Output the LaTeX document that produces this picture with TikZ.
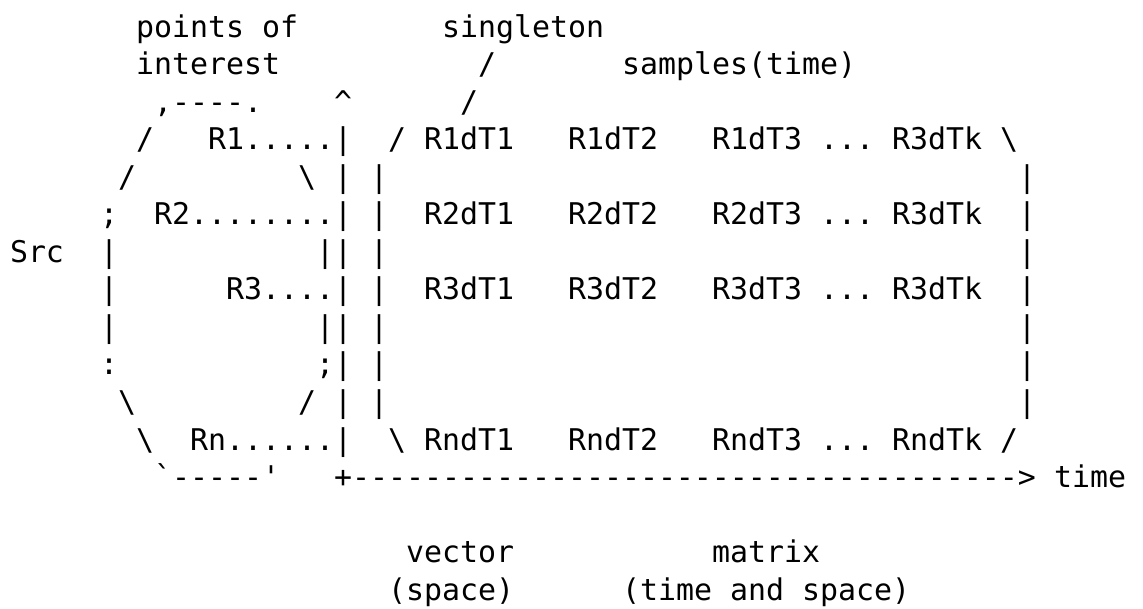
\documentclass[tikz,border=0pt]{standalone}
\usepackage{fontspec}
\newfontfamily\asciifont[Ligatures=TeXOff]{DejaVu Sans Mono}
\newcommand\bsl{\textbackslash}
\tikzset{txt/.style={anchor=base west, inner sep=0pt, outer sep=0pt,
  font=\asciifont\fontsize{29.9pt}{37.5pt}\selectfont}}
\newcommand\asc[4]{\node[txt] (#1) at ({10+18*#2},{-37.5*#3}) {#4};}
\begin{document}
\begin{tikzpicture}[x=1pt,y=1pt]
\useasboundingbox (0,0) rectangle (1143,-609);
% row 1
\asc{poi}{7}{1}{points of}
\asc{sing}{24}{1}{singleton}
% row 2
\asc{inter}{7}{2}{interest}
\asc{sl2}{26}{2}{/}
\asc{samp}{34}{2}{samples(time)}
% row 3
\asc{ovtop}{8}{3}{,----.}
\asc{caret}{18}{3}{\textasciicircum}
\asc{sl3}{25}{3}{/}
% row 4
\asc{ova}{7}{4}{/}
\asc{rone}{11}{4}{R1.....|}
\asc{mxa}{21}{4}{/}
\asc{ra}{23}{4}{R1dT1}
\asc{rb}{31}{4}{R1dT2}
\asc{rc}{39}{4}{R1dT3}
\asc{rd}{45}{4}{...}
\asc{re}{49}{4}{R3dTk}
\asc{mxb}{55}{4}{\bsl}
% row 5
\asc{ovb}{6}{5}{/}
\asc{ovc}{16}{5}{\bsl}
\asc{vca}{18}{5}{|}
\asc{mxc}{20}{5}{|}
\asc{mxd}{56}{5}{|}
% row 6
\asc{ovd}{5}{6}{;}
\asc{rtwo}{8}{6}{R2........|}
\asc{mxe}{20}{6}{|}
\asc{sa}{23}{6}{R2dT1}
\asc{sb}{31}{6}{R2dT2}
\asc{sc}{39}{6}{R2dT3}
\asc{sd}{45}{6}{...}
\asc{se}{49}{6}{R3dTk}
\asc{mxf}{56}{6}{|}
% row 7
\asc{src}{0}{7}{Src}
\asc{ove}{5}{7}{|}
\asc{ovf}{17}{7}{||}
\asc{mxg}{20}{7}{|}
\asc{mxh}{56}{7}{|}
% row 8
\asc{ovg}{5}{8}{|}
\asc{rthree}{12}{8}{R3....|}
\asc{mxi}{20}{8}{|}
\asc{ta}{23}{8}{R3dT1}
\asc{tb}{31}{8}{R3dT2}
\asc{tc}{39}{8}{R3dT3}
\asc{td}{45}{8}{...}
\asc{te}{49}{8}{R3dTk}
\asc{mxj}{56}{8}{|}
% row 9
\asc{ovh}{5}{9}{|}
\asc{ovi}{17}{9}{||}
\asc{mxk}{20}{9}{|}
\asc{mxl}{56}{9}{|}
% row 10
\asc{ovj}{5}{10}{:}
\asc{ovk}{17}{10}{;|}
\asc{mxm}{20}{10}{|}
\asc{mxn}{56}{10}{|}
% row 11
\asc{ovl}{6}{11}{\bsl}
\asc{ovm}{16}{11}{/}
\asc{vcb}{18}{11}{|}
\asc{mxo}{20}{11}{|}
\asc{mxp}{56}{11}{|}
% row 12
\asc{ovn}{7}{12}{\bsl}
\asc{rn}{10}{12}{Rn......|}
\asc{mxq}{21}{12}{\bsl}
\asc{ua}{23}{12}{RndT1}
\asc{ub}{31}{12}{RndT2}
\asc{uc}{39}{12}{RndT3}
\asc{ud}{45}{12}{...}
\asc{ue}{49}{12}{RndTk}
\asc{mxr}{55}{12}{/}
% row 13
\asc{ovbot}{8}{13}{\textasciigrave-----\textquotesingle}
\asc{axis}{18}{13}{+------------------------------------->}
\asc{time}{58}{13}{time}
% rows 15-16
\asc{vec}{22}{15}{vector}
\asc{mat}{39}{15}{matrix}
\asc{spc}{21}{16}{(space)}
\asc{tas}{34}{16}{(time and space)}
\end{tikzpicture}
\end{document}
